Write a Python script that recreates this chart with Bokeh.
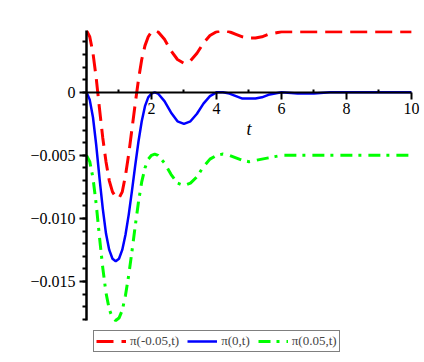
import numpy as np
from bokeh.plotting import figure
from bokeh.models import Range1d, FixedTicker, Legend, LegendItem, Label
from bokeh.embed import file_html
from bokeh.resources import INLINE

# ---- data ----
t_vals = [0.0, 0.1, 0.2, 0.3, 0.4, 0.5, 0.6, 0.7, 0.8, 0.9, 1.0, 1.1, 1.2, 1.3, 1.4, 1.5,
          1.6, 1.7, 1.8, 1.9, 2.0, 2.1, 2.2,
          2.4, 2.6, 2.8, 3.0, 3.2, 3.4, 3.6, 3.8, 4.0, 4.2, 4.4, 4.6, 4.8, 5.0, 5.2, 5.4,
          5.6, 5.8, 6.0,
          6.5, 7.0, 7.5, 8.0, 9.0, 10.0]

pi_m005 = [0.0049, 0.0044, 0.0031, 0.0011, -0.0013, -0.0036, -0.0055, -0.0070, -0.0079,
           -0.0083, -0.0084, -0.0079, -0.0066, -0.0049, -0.0029, -0.0009, 0.0010, 0.0026,
           0.0037, 0.0044, 0.0048, 0.0049, 0.0048,
           0.0042, 0.0033, 0.0026, 0.0023, 0.0025, 0.0031, 0.0039, 0.0045, 0.0048, 0.0049,
           0.0048, 0.0046, 0.0044, 0.0043, 0.0043, 0.0044, 0.0046, 0.0047, 0.0048,
           0.0048, 0.0048, 0.0048, 0.0048, 0.0048, 0.0048]

pi_0 = [0.0, -0.0006, -0.0020, -0.0042, -0.0068, -0.0092, -0.0112, -0.0125, -0.0132,
        -0.0134, -0.0132, -0.0125, -0.0113, -0.0097, -0.0078, -0.0058, -0.0039, -0.0023,
        -0.0011, -0.0004, -0.0001, 0.0, -0.0001,
        -0.0007, -0.0016, -0.0023, -0.0025, -0.0023, -0.0017, -0.0009, -0.0003, 0.0, 0.0,
        -0.0001, -0.0003, -0.0005, -0.0005, -0.0005, -0.0004, -0.0002, -0.0001, 0.0,
        -0.0001, -0.0001, 0.0, 0.0, 0.0, 0.0]

pi_p005 = [-0.0050, -0.0055, -0.0068, -0.0089, -0.0115, -0.0139, -0.0159, -0.0172, -0.0179,
           -0.0181, -0.0179, -0.0173, -0.0161, -0.0145, -0.0126, -0.0106, -0.0087, -0.0071,
           -0.0060, -0.0053, -0.0050, -0.0049, -0.0050,
           -0.0056, -0.0065, -0.0072, -0.0074, -0.0072, -0.0067, -0.0059, -0.0053, -0.0050,
           -0.0049, -0.0050, -0.0052, -0.0054, -0.0055, -0.0054, -0.0053, -0.0052, -0.0051,
           -0.0050,
           -0.0050, -0.0050, -0.0050, -0.0050, -0.0050, -0.0050]

series_labels = ["π(-0.05,t)", "π(0,t)", "π(0.05,t)"]
x_ticks = [2, 4, 6, 8, 10]
x_minor_ticks = [1, 3, 5, 7, 9]
y_ticks = [0, -0.005, -0.010, -0.015]
y_tick_labels = ["0", "−0.005", "−0.010", "−0.015"]
x_label = "t"

FONT = "Liberation Serif"

p = figure(width=422, height=358, output_backend="svg", toolbar_location=None,
           x_range=Range1d(0, 10.25), y_range=Range1d(-0.02095, 0.0049),
           min_border_left=86, min_border_right=3, min_border_top=30, min_border_bottom=2)
p.grid.visible = False
p.outline_line_color = None
p.background_fill_color = "white"
p.border_fill_color = "white"

r1 = p.line(t_vals, pi_m005, line_color="#FF0000", line_width=3, line_dash="17 8")
r2 = p.line(t_vals, pi_0, line_color="#0000FF", line_width=2.5)
r3 = p.line(t_vals, pi_p005, line_color="#00FF00", line_width=3, line_dash="12 6 3 7")

# x axis crossing at y = 0
xa = p.xaxis[0]
xa.fixed_location = 0
xa.bounds = (0, 10)
xa.ticker = FixedTicker(ticks=x_ticks, minor_ticks=x_minor_ticks)
xa.axis_line_width = 2
xa.axis_line_color = "black"
xa.major_tick_out = 7
xa.major_tick_in = 0
xa.minor_tick_out = 0
xa.minor_tick_in = 3
xa.major_tick_line_width = 2
xa.minor_tick_line_width = 2
xa.major_label_standoff = 4
xa.major_label_text_font = FONT
xa.major_label_text_font_size = "16px"
xa.major_label_text_color = "black"

ya = p.yaxis[0]
ya.bounds = (-0.0181, 0.0049)
ya.ticker = FixedTicker(ticks=y_ticks, minor_ticks=list(np.round(np.arange(-0.018, 0.0045, 0.001), 4)))
ya.major_label_overrides = {v: s for v, s in zip(y_ticks, y_tick_labels)}
ya.axis_line_width = 2.5
ya.axis_line_color = "black"
ya.major_tick_out = 7
ya.major_tick_in = 0
ya.minor_tick_out = 4
ya.minor_tick_in = 0
ya.major_tick_line_width = 2
ya.minor_tick_line_width = 2
ya.major_label_standoff = 4
ya.major_label_text_font = FONT
ya.major_label_text_font_size = "16px"
ya.major_label_text_color = "black"

p.add_layout(Label(x=5, y=-0.00295, text=x_label, text_font=FONT, text_font_style="italic",
                   text_font_size="18px", text_align="center", text_baseline="middle",
                   text_color="black"))

legend = Legend(items=[LegendItem(label=series_labels[0], renderers=[r1]),
                       LegendItem(label=series_labels[1], renderers=[r2]),
                       LegendItem(label=series_labels[2], renderers=[r3])],
                orientation="horizontal", location=(7, 4),
                border_line_color="black", border_line_width=1,
                label_text_font=FONT, label_text_font_size="13px",
                glyph_width=30, glyph_height=12, label_standoff=4, spacing=8,
                padding=2, margin=0, background_fill_color="white", background_fill_alpha=1)
p.add_layout(legend)

open("out.html", "w").write(file_html(p, INLINE))
